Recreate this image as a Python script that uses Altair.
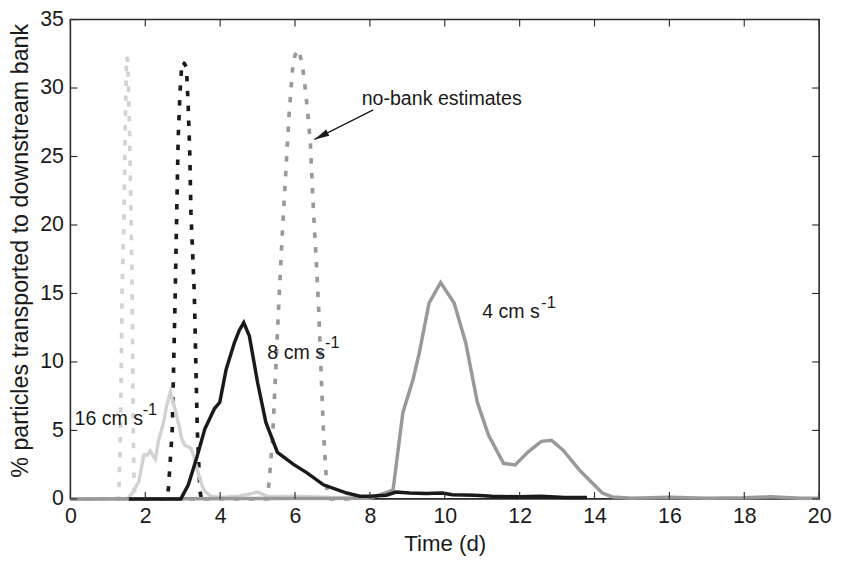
import altair as alt
import pandas as pd

# ---------------- data ----------------
# no-bank estimates (dotted)
nb16_t = [0.0, 1.27, 1.30, 1.34, 1.38, 1.43, 1.47, 1.50, 1.53, 1.58, 1.62, 1.65, 1.68, 1.70, 1.73]
nb16_v = [0.0, 0.0, 1.0, 5.0, 15.0, 20.5, 28.0, 32.3, 32.0, 26.8, 20.5, 15.0, 5.0, 1.0, 0.0]

nb8_t = [0.0, 2.58, 2.62, 2.72, 2.80, 2.84, 2.88, 2.93, 2.98, 3.04, 3.10, 3.15, 3.19, 3.22, 3.31, 3.39, 3.46, 3.50]
nb8_v = [0.0, 0.0, 0.8, 5.0, 15.0, 20.9, 26.4, 29.8, 31.9, 31.8, 31.5, 28.5, 25.1, 20.9, 15.0, 5.0, 0.6, 0.0]

nb4_t = [0.0, 5.26, 5.31, 5.40, 5.49, 5.57, 5.66, 5.75, 5.84, 5.93, 6.00, 6.10, 6.20, 6.28, 6.34,
         6.41, 6.48, 6.59, 6.63, 6.69, 6.76, 6.85, 6.90, 7.60]
nb4_v = [0.0, 0.0, 1.3, 4.4, 9.7, 14.5, 19.3, 23.7, 28.0, 31.3, 32.4, 32.8, 31.6, 29.8, 28.2,
         26.0, 21.7, 16.2, 14.0, 9.7, 4.9, 0.8, 0.0, 0.0]

# model results with bank (solid)
s16_t = [0.0, 1.52, 1.65, 1.83, 1.96, 2.05, 2.13, 2.22, 2.27, 2.35, 2.44, 2.49, 2.57, 2.62, 2.67,
         2.80, 2.93, 2.97, 3.06, 3.15, 3.22, 3.30, 3.41, 3.50, 3.59, 3.76, 4.0, 4.5, 5.0, 5.3,
         6.0, 7.0, 7.6]
s16_v = [0.0, 0.0, 0.4, 1.27, 3.2, 3.2, 3.5, 3.1, 2.9, 4.2, 5.1, 5.6, 6.8, 7.3, 7.8,
         6.5, 5.0, 4.4, 3.9, 3.8, 3.7, 3.1, 1.9, 1.1, 0.55, 0.2, 0.1, 0.2, 0.5, 0.15,
         0.2, 0.1, 0.1]

s8_t = [1.56, 2.95, 3.15, 3.37, 3.59, 3.85, 3.99, 4.16, 4.38, 4.51, 4.63, 4.78, 5.0, 5.22, 5.53,
        5.97, 6.32, 6.76, 7.38, 7.73, 8.0, 8.44, 8.70, 9.06, 9.5, 9.94, 10.2, 10.8, 11.26, 12.0,
        12.58, 13.2, 13.8]
s8_v = [0.0, 0.0, 1.03, 2.96, 5.1, 6.6, 7.05, 9.45, 11.4, 12.3, 12.87, 11.9, 8.5, 5.6, 3.4,
        2.5, 1.9, 1.03, 0.43, 0.2, 0.2, 0.27, 0.5, 0.43, 0.4, 0.43, 0.3, 0.27, 0.2, 0.15,
        0.2, 0.1, 0.1]

s4_t = [0.0, 8.0, 8.26, 8.53, 8.62, 8.88, 9.15, 9.32, 9.58, 9.89, 10.25, 10.56, 10.87, 11.17, 11.57,
        11.88, 12.23, 12.58, 12.85, 13.16, 13.6, 13.9, 14.21, 14.48, 15.0, 16.0, 17.0, 18.0, 18.7,
        19.5, 20.0]
s4_v = [0.0, 0.05, 0.3, 0.55, 0.67, 6.3, 8.7, 10.66, 14.3, 15.8, 14.3, 11.4, 7.05, 4.64, 2.6,
        2.48, 3.44, 4.2, 4.28, 3.56, 2.1, 1.27, 0.43, 0.14, 0.05, 0.12, 0.05, 0.08, 0.15,
        0.05, 0.05]

x_ticks = [0, 2, 4, 6, 8, 10, 12, 14, 16, 18, 20]
y_ticks = [0, 5, 10, 15, 20, 25, 30, 35]

# annotations
ann_text = ["16 cm s", "8 cm s", "4 cm s", "no-bank estimates"]
ann_t = [0.11, 5.26, 11.0, 7.78]
ann_v = [5.85, 10.66, 13.66, 29.18]
sup_text = ["-1", "-1", "-1"]
sup_t = [1.93, 6.80, 12.58]
sup_v = [6.5, 11.38, 14.27]

arrow_t = [8.09]
arrow_v = [28.41]
arrow_t2 = [6.52]
arrow_v2 = [26.25]

# ---------------- chart ----------------
W, H = 756, 484
FONT = "Liberation Sans"
LIGHT, MID, DARK = "#d2d2d2", "#999999", "#1a1a1a"

xs = alt.Scale(domain=[0, 20], nice=False, zero=False)
ys = alt.Scale(domain=[0, 35], nice=False, zero=False)

x_axis = alt.Axis(values=x_ticks, title="Time (d)", tickSize=0, domain=False, grid=False,
                  labelFontSize=21.5, labelPadding=7, labelFlush=False,
                  titleFontSize=22.5, titleBaseline="alphabetic", titleY=52, format="d")
y_axis = alt.Axis(values=y_ticks, title="% particles transported to downstream bank",
                  tickSize=0, domain=False, grid=False, labelFontSize=21.5, labelPadding=7,
                  titleFontSize=23.5, titleX=-38, titleY=233, format="d")

X = alt.X("t:Q", scale=xs, axis=x_axis)
Y = alt.Y("v:Q", scale=ys, axis=y_axis)


def frame(t, v):
    return pd.DataFrame({"t": t, "v": v})


def line(t, v, color, dotted):
    kw = dict(color=color, strokeWidth=3.5)
    if dotted:
        kw["strokeDash"] = [5.5, 9.5]
        kw["strokeWidth"] = 3.7
    return alt.Chart(frame(t, v)).mark_line(**kw).encode(x=X, y=Y, order="idx:Q").transform_window(
        idx="row_number()")


layers = [
    line(nb16_t, nb16_v, LIGHT, True),
    line(nb8_t, nb8_v, DARK, True),
    line(nb4_t, nb4_v, MID, True),
    line(s16_t, s16_v, LIGHT, False),
    line(s4_t, s4_v, MID, False),
    line(s8_t, s8_v, DARK, False),
]

xt = pd.DataFrame({"t": x_ticks})
yt = pd.DataFrame({"v": y_ticks})
tick_kw = dict(color="#333333", strokeWidth=1.2)
layers += [
    alt.Chart(xt).mark_rule(**tick_kw).encode(x=X, y=alt.value(H), y2=alt.value(H - 7)),
    alt.Chart(xt).mark_rule(**tick_kw).encode(x=X, y=alt.value(0), y2=alt.value(7)),
    alt.Chart(yt).mark_rule(**tick_kw).encode(y=Y, x=alt.value(0), x2=alt.value(7)),
    alt.Chart(yt).mark_rule(**tick_kw).encode(y=Y, x=alt.value(W), x2=alt.value(W - 7)),
]

ann = pd.DataFrame({"t": ann_t, "v": ann_v, "label": ann_text})
sup = pd.DataFrame({"t": sup_t, "v": sup_v, "label": sup_text})
layers += [
    alt.Chart(ann).mark_text(align="left", baseline="middle", font=FONT, fontSize=19.8,
                             color=DARK).encode(x=X, y=Y, text="label:N"),
    alt.Chart(sup).mark_text(align="left", baseline="middle", font=FONT, fontSize=16.5,
                             color=DARK).encode(x=X, y=Y, text="label:N"),
]

arr = pd.DataFrame({"t": arrow_t, "v": arrow_v, "t2": arrow_t2, "v2": arrow_v2})
layers += [
    alt.Chart(arr).mark_rule(color=DARK, strokeWidth=1.3).encode(
        x=X, y=Y, x2="t2:Q", y2="v2:Q"),
    alt.Chart(arr).mark_point(shape="M0,0L0.23,1L-0.23,1Z", size=900, filled=True,
                              color=DARK, opacity=1, angle=243).encode(
        x=alt.X("t2:Q", scale=xs, axis=x_axis), y=alt.Y("v2:Q", scale=ys, axis=y_axis)),
]

chart = alt.layer(*layers).properties(
    width=W, height=H,
    autosize=alt.AutoSizeParams(type="none"),
    padding={"left": 63, "top": 9, "right": 14, "bottom": 56},
    background="white",
).configure_view(stroke="#2a2a2a", strokeWidth=1.6).configure_axis(
    labelFont=FONT, titleFont=FONT, labelColor="#1a1a1a", titleColor="#1a1a1a",
    titleFontWeight="normal")

chart.save("out.html", embed_options={"renderer": "svg", "actions": False})
